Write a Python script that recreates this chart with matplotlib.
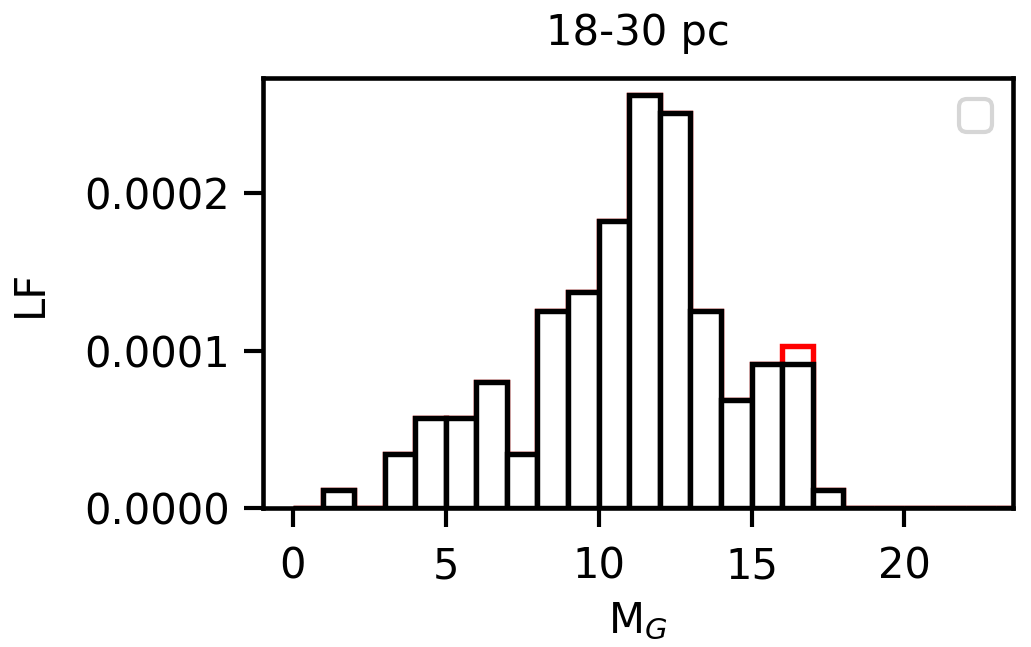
import numpy as np
import matplotlib
matplotlib.use('Agg')
import matplotlib.pyplot as plt

# bin edges in M_G (width 1 mag)
bin_left = np.arange(0, 24)
# luminosity function, black histogram
lf_black = [0.0, 1.14e-5, 0.0, 3.43e-5, 5.71e-5, 5.71e-5, 8.0e-5, 3.43e-5,
            1.254e-4, 1.37e-4, 1.825e-4, 2.62e-4, 2.51e-4, 1.254e-4, 6.85e-5,
            9.13e-5, 9.13e-5, 1.14e-5, 0.0, 0.0, 0.0, 0.0, 0.0, 0.0]
# red histogram (differs only in the 16-17 bin)
lf_red = list(lf_black)
lf_red[16] = 1.027e-4

fig = plt.figure(figsize=(1031/300, 647/300), dpi=300)
ax = fig.add_axes([0.255, 0.2148, 0.9825 - 0.255, 0.8794 - 0.2148])

ax.bar(bin_left, lf_red, width=1, align='edge', color='white',
       edgecolor='red', linewidth=1.3)
ax.bar(bin_left, lf_black, width=1, align='edge', color='white',
       edgecolor='black', linewidth=1.3)

ax.set_xlim(-0.98, 23.55)
ax.set_ylim(0, 0.000273)
ax.set_xticks([0, 5, 10, 15, 20])
ax.set_yticks([0.0, 0.0001, 0.0002])
ax.set_yticklabels(['0.0000', '0.0001', '0.0002'])
ax.tick_params(length=4.5, width=1.0)
ax.tick_params(axis='x', pad=4.5)
for s in ax.spines.values():
    s.set_linewidth(1.1)

ax.set_xlabel(r'M$_G$', labelpad=3)
ax.set_ylabel('LF', labelpad=8)
ax.set_title('18-30 pc', fontsize=10, pad=8)
ax.legend(handles=[], loc='upper right')

fig.savefig('out.png', dpi=300)
